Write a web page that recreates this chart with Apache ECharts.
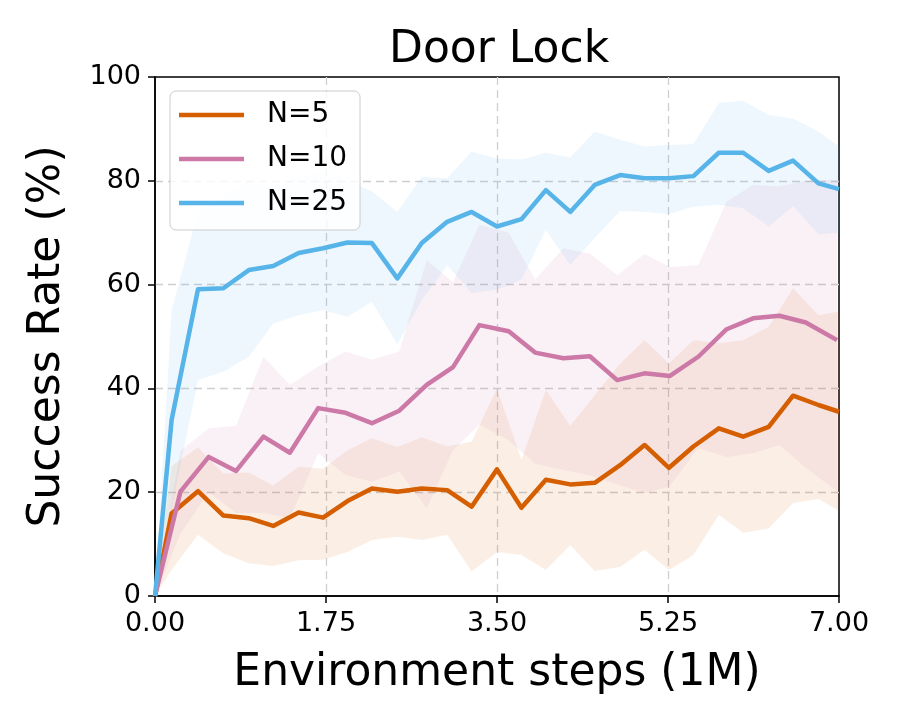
<!DOCTYPE html>
<html>
<head>
<meta charset="utf-8">
<title>Door Lock</title>
<script src="https://cdn.jsdelivr.net/npm/echarts@6/dist/echarts.min.js"></script>
<style>
  html, body { margin: 0; padding: 0; background: #fff; }
  #chart { width: 900px; height: 720px; }
</style>
</head>
<body>
<div id="chart"></div>
<script>
// evaluation points (1M env steps); N=5 and N=25 share one schedule, N=10 another
const stepsA = [0, 0.17, 0.44, 0.70, 0.96, 1.21, 1.47, 1.72, 1.97, 2.22, 2.48, 2.73, 2.99, 3.24, 3.50,
  3.75, 4.00, 4.25, 4.50, 4.76, 5.01, 5.26, 5.51, 5.77, 6.02, 6.28, 6.53, 6.79, 7.00];
const stepsB = [0, 0.26, 0.55, 0.83, 1.11, 1.38, 1.67, 1.95, 2.22, 2.50, 2.78, 3.05, 3.32, 3.62,
  3.89, 4.18, 4.45, 4.73, 5.01, 5.27, 5.56, 5.85, 6.12, 6.39, 6.66, 6.98];

// N=5
const n5Mean = [0, 15.9, 20.2, 15.5, 15.0, 13.5, 16.1, 15.1, 18.3, 20.7, 20.1, 20.7, 20.4, 17.2, 24.4,
  17.0, 22.4, 21.5, 21.8, 25.2, 29.1, 24.7, 28.8, 32.3, 30.7, 32.6, 38.6, 36.8, 35.5];
const n5Upper = [0, 25, 28.6, 23.6, 23.8, 21.3, 24.9, 24.5, 28.1, 30.4, 28.7, 30.6, 28.8, 29.7, 40.0,
  26.2, 39.7, 32.8, 38.7, 44.8, 49.3, 44.8, 49.3, 48.7, 49.3, 51.9, 59.3, 54.1, 54.8];
const n5Lower = [0, 5, 11.8, 8.2, 6.3, 5.8, 6.9, 7.0, 8.5, 10.8, 11.4, 10.8, 11.8, 4.7, 8.5,
  7.9, 5.0, 9.8, 4.8, 5.6, 8.9, 5.0, 7.9, 15.6, 12.2, 13.0, 17.9, 18.7, 16.4];

// N=10
const n10Mean = [0, 20.1, 26.8, 24.1, 30.7, 27.6, 36.2, 35.3, 33.3, 35.7, 40.7, 44.1, 52.2, 51.0,
  46.9, 45.8, 46.2, 41.6, 42.9, 42.4, 46.1, 51.4, 53.5, 54.0, 52.7, 49.3];
const n10Upper = [0, 28, 32.3, 32.8, 46.1, 40.7, 44.2, 47.1, 45.5, 47.1, 64.7, 60.5, 71.5, 70,
  61, 67, 66, 61.8, 65.9, 63.4, 63.8, 76, 79.2, 78.9, 80, 80.2];
const n10Lower = [0, 12, 20, 16, 16, 15, 27.5, 23.3, 22.0, 24.0, 16.9, 28.1, 33, 30,
  25.5, 24.3, 23.2, 21.5, 19.8, 21.2, 28.5, 26.8, 27.5, 29.1, 24.7, 20.2];

// N=25
const n25Mean = [0, 33.9, 59.1, 59.3, 62.8, 63.6, 66.1, 67.0, 68.1, 68.0, 61.2, 68.0, 72.1, 74.0, 71.2,
  72.6, 78.2, 74.0, 79.2, 81.1, 80.5, 80.5, 80.9, 85.4, 85.4, 81.9, 83.9, 79.5, 78.4];
const n25Upper = [0, 55, 74, 77, 80, 78.5, 80.5, 82, 80, 78, 74, 80.8, 80.5, 85.6, 84.3,
  84.1, 85.4, 84.5, 89.5, 87.9, 86.6, 86.9, 87.1, 95.0, 95.4, 92.7, 92.0, 89.5, 86.6];
const n25Lower = [0, 17, 41.6, 43.2, 46.1, 52.5, 54.1, 55.1, 53.8, 56.7, 48.5, 57, 63.8, 58.4, 59,
  61, 70.5, 63.8, 69, 74.2, 74.0, 73.6, 75.0, 75.4, 74.7, 71.2, 75.1, 69.7, 70.0];

const FONT = 'DejaVu Sans';
const ORANGE = '#D55E00';
const PINK = '#CC79A7';
const BLUE = '#56B4E9';

function band(name, xs, lo, hi, fill) {
  return {
    type: 'custom',
    name: name,
    silent: true,
    z: 1,
    data: xs.map((x, i) => [x, lo[i], hi[i]]),
    encode: { x: 0, y: [1, 2] },
    renderItem: function (params, api) {
      if (params.dataIndex !== 0) return null;
      const pts = [];
      for (let i = 0; i < xs.length; i++) pts.push(api.coord([xs[i], hi[i]]));
      for (let i = xs.length - 1; i >= 0; i--) pts.push(api.coord([xs[i], lo[i]]));
      return { type: 'polygon', shape: { points: pts }, style: { fill: fill } };
    }
  };
}

function line(name, xs, ys, color) {
  return {
    type: 'line',
    name: name,
    z: 3,
    data: xs.map((x, i) => [x, ys[i]]),
    symbol: 'none',
    color: color,
    lineStyle: { color: color, width: 4.5, join: 'round' }
  };
}

const gridLine = {
  show: true,
  showMinLine: false,
  showMaxLine: false,
  lineStyle: { color: '#cfcfcf', width: 1.3, type: [8, 5] }
};

const chart = echarts.init(document.getElementById('chart'));
chart.setOption({
  animation: false,
  backgroundColor: '#fff',
  title: {
    text: 'Door Lock',
    left: 384,
    top: 24,
    textStyle: { fontFamily: FONT, fontSize: 44, fontWeight: 'normal', color: '#000' }
  },
  grid: {
    left: 155, top: 77, width: 684, height: 519,
    show: true, borderColor: '#000', borderWidth: 1.5, backgroundColor: 'transparent'
  },
  legend: {
    data: ['N=5', 'N=10', 'N=25'],
    orient: 'vertical',
    left: 170,
    top: 91,
    icon: 'rect',
    itemWidth: 65,
    itemHeight: 4.5,
    itemGap: 14,
    padding: [9, 13, 12, 9],
    backgroundColor: 'rgba(255,255,255,0.8)',
    borderColor: '#cccccc',
    borderWidth: 1,
    borderRadius: 6,
    textStyle: { fontFamily: FONT, fontSize: 28, lineHeight: 30, color: '#000', padding: [0, 0, 0, 18] }
  },
  xAxis: {
    type: 'value',
    min: 0, max: 7, interval: 1.75,
    name: 'Environment steps (1M)',
    nameLocation: 'middle',
    nameGap: 56,
    nameTextStyle: { fontFamily: FONT, fontSize: 44, color: '#000' },
    axisLine: { show: true, lineStyle: { color: '#000', width: 1.5 } },
    axisTick: { show: true, length: 7, lineStyle: { color: '#000', width: 1.5 } },
    axisLabel: {
      margin: 14, fontFamily: FONT, fontSize: 27, color: '#000',
      formatter: v => v.toFixed(2)
    },
    splitLine: gridLine
  },
  yAxis: {
    type: 'value',
    min: 0, max: 100, interval: 20,
    name: 'Success Rate (%)',
    nameLocation: 'middle',
    nameGap: 85,
    nameTextStyle: { fontFamily: FONT, fontSize: 44, color: '#000' },
    axisLine: { show: true, lineStyle: { color: '#000', width: 1.5 } },
    axisTick: { show: true, length: 7, lineStyle: { color: '#000', width: 1.5 } },
    axisLabel: { margin: 14, fontFamily: FONT, fontSize: 27, color: '#000' },
    splitLine: gridLine
  },
  series: [
    band('N=5 band', stepsA, n5Lower, n5Upper, 'rgba(213,94,0,0.1)'),
    band('N=10 band', stepsB, n10Lower, n10Upper, 'rgba(204,121,167,0.1)'),
    band('N=25 band', stepsA, n25Lower, n25Upper, 'rgba(86,180,233,0.1)'),
    line('N=5', stepsA, n5Mean, ORANGE),
    line('N=10', stepsB, n10Mean, PINK),
    line('N=25', stepsA, n25Mean, BLUE)
  ]
});
</script>
</body>
</html>
